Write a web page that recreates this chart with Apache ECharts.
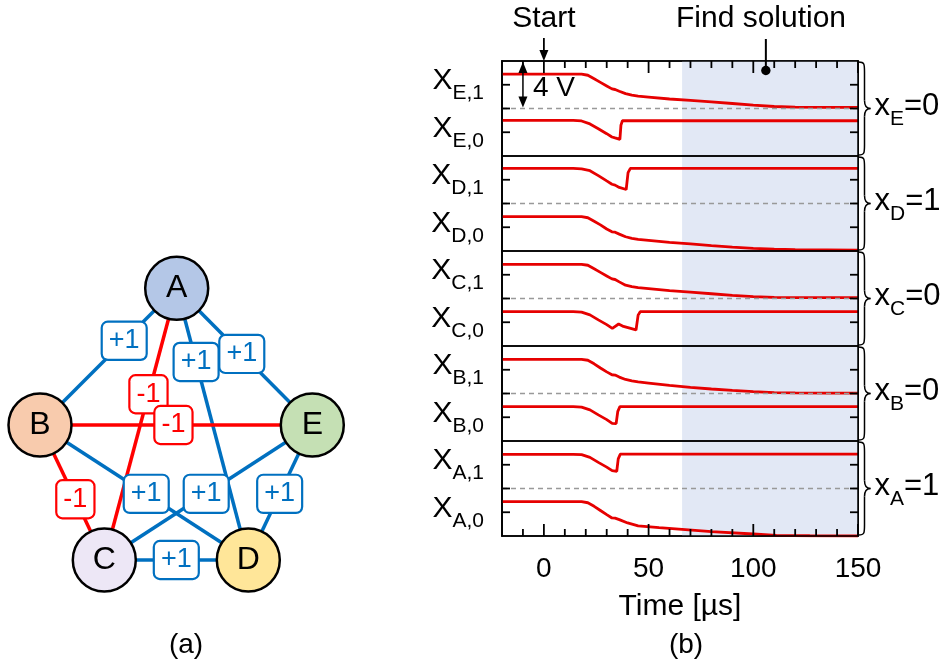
<!DOCTYPE html>
<html><head><meta charset="utf-8">
<script src="https://cdn.jsdelivr.net/npm/echarts@6/dist/echarts.min.js"></script>
<style>html,body{margin:0;padding:0;background:#fff}#c{width:947px;height:668px}</style>
</head><body><div id="c"></div>
<script>
// ---------- Panel (a): graph data ----------
const nodeNames = ['A','B','C','D','E'];
const nodeX = [176.7, 40, 104.3, 248.3, 312.3];
const nodeY = [288.3, 425, 560, 560, 425];
const nodeColors = ['#b4c7e7','#f8cbad','#ede7f6','#ffe699','#c5e0b4'];
const edgeSource = ['A','A','A','A','B','B','B','C','E','C'];
const edgeTarget = ['B','E','D','C','E','C','D','E','D','D'];
const edgeWeight = ['+1','+1','+1','-1','-1','-1','+1','+1','+1','+1'];
const edgeLabelT = [0.384,0.48,0.271,0.39,0.49,0.55,0.51,0.49,0.51,0.5];

// ---------- Panel (b): waveform data ([time µs, volts]) ----------
const timeMin = -20, timeMax = 150;
const timeTicks = [0,50,100,150];
const timeMinorTicks = [-10,10,20,30,40,60,70,80,90,110,120,130,140];
const voltTicks = [-2,0,2];
const solveStart = 66;
const spinNames = ['E','D','C','B','A'];
const spinValues = ['0','1','0','0','1'];
const bitUpper = ['0','1','0','0','1'];
const bitLower = ['1','0','1','1','0'];

const xE1 = [[-20,2.9],[18,2.9],[21,2.8],[24,2.5],[27,2.2],[30,1.9],[32.5,1.65],[33.2,1.8],[34,1.6],[36,1.45],[39,1.25],[42,1.12],[45,1.04],[50,0.96],[60,0.8],[70,0.68],[80,0.56],[90,0.42],[100,0.28],[110,0.17],[120,0.12],[135,0.1],[150,0.1]];
const xE0 = [[-20,3.0],[14,3.0],[18,2.95],[22,2.7],[26,2.3],[30,1.88],[32.5,1.6],[33.2,1.68],[34,1.52],[36.3,1.4],[36.8,2.6],[37.5,2.97],[150,2.97]];
const xD1 = [[-20,2.96],[14,2.96],[18,2.92],[22,2.76],[26,2.35],[30,1.9],[32.5,1.62],[33.2,1.72],[34,1.55],[36,1.35],[39.3,1.18],[40.2,2.6],[41.3,2.96],[150,2.96]];
const xD0 = [[-20,2.89],[18,2.89],[21,2.8],[24,2.5],[27,2.2],[30,1.85],[32.5,1.62],[33.2,1.78],[34,1.58],[36,1.42],[39,1.2],[42,1.07],[45,0.98],[50,0.9],[60,0.73],[70,0.6],[80,0.46],[90,0.33],[100,0.22],[110,0.16],[120,0.12],[135,0.1],[150,0.08]];
const xC1 = [[-20,2.88],[18,2.88],[21,2.8],[24,2.5],[27,2.2],[30,1.9],[32.5,1.65],[33.2,1.8],[34,1.6],[36,1.4],[39,1.12],[42,1.0],[45,0.92],[50,0.84],[60,0.66],[70,0.53],[80,0.4],[90,0.26],[100,0.15],[110,0.1],[120,0.08],[135,0.07],[150,0.07]];
const xC0 = [[-20,2.89],[14,2.89],[18,2.85],[22,2.62],[26,2.2],[30,1.8],[32.7,1.49],[33.5,1.6],[35.7,1.85],[38,1.65],[41,1.5],[44,1.35],[45,2.6],[46,2.89],[150,2.89]];
const xB1 = [[-20,2.88],[18,2.88],[21,2.8],[24,2.5],[27,2.15],[30,1.82],[32.5,1.58],[33.2,1.72],[34,1.55],[36,1.38],[39,1.18],[42,1.06],[45,0.98],[50,0.88],[60,0.68],[70,0.52],[80,0.38],[90,0.26],[100,0.15],[110,0.08],[120,0.05],[135,0.03],[150,0.03]];
const xB0 = [[-20,2.89],[14,2.89],[18,2.85],[22,2.62],[26,2.2],[30,1.8],[32.6,1.48],[34.5,1.46],[35.3,2.5],[36.3,2.89],[150,2.89]];
const xA1 = [[-20,2.88],[14,2.88],[18,2.85],[22,2.62],[26,2.2],[30,1.8],[32.6,1.5],[34.8,1.45],[35.5,2.5],[36.5,2.9],[150,2.9]];
const xA0 = [[-20,2.89],[18,2.89],[21,2.8],[24,2.5],[27,2.15],[30,1.8],[32.5,1.52],[33.2,1.68],[34,1.5],[36,1.38],[40,1.1],[45,0.86],[55,0.7],[66,0.56],[80,0.36],[100,0.17],[111,0.06],[127,0.02],[150,0]];

const tracesUpper = [xE1, xD1, xC1, xB1, xA1];
const tracesLower = [xE0, xD0, xC0, xB0, xA0];

// ---------- styling ----------
const FONT = 'Liberation Sans, Arial, sans-serif';
const RED = '#e60000', BLUE = '#0070c0', EDGE_RED = '#ff0000';
const panelTop = 61, panelH = 95, plotLeft = 502, plotW = 356;

const grids = [], xAxes = [], yAxes = [], series = [];
for (let i = 0; i < 5; i++) {
  grids.push({left: plotLeft, top: panelTop + i * panelH, width: plotW, height: panelH,
    show: true, borderColor: '#000', borderWidth: 1.5, z: 10});
}
grids.push({left: 0, top: 0, width: 360, height: 668, show: false});

const blackLine = {show: true, onZero: false, lineStyle: {color: '#000', width: 1.5}};
const xBase = {type: 'value', min: timeMin, max: timeMax, splitLine: {show: false},
  axisLine: blackLine, axisLabel: {show: false}, axisTick: {show: false}};
xAxes.push(Object.assign({}, xBase, {gridIndex: 0, position: 'top'}));
for (let i = 1; i <= 3; i++) xAxes.push(Object.assign({}, xBase, {gridIndex: i, show: false}));
xAxes.push(Object.assign({}, xBase, {gridIndex: 4, position: 'bottom',
  axisLabel: {show: true, customValues: timeTicks, fontSize: 28, color: '#000', fontFamily: FONT, margin: 19},
  name: 'Time [µs]', nameLocation: 'middle', nameGap: 56,
  nameTextStyle: {fontSize: 30, color: '#000', fontFamily: FONT}}));
xAxes.push({type: 'value', gridIndex: 5, min: 0, max: 360, show: false});
const seriesX = [0, 1, 2, 3, 4];

const yRich = {
  x: {fontSize: 30, color: '#000', fontFamily: FONT, verticalAlign: 'bottom', padding: [0, 0, 8, 0]},
  s: {fontSize: 21, color: '#000', fontFamily: FONT, verticalAlign: 'bottom'},
  v: {fontSize: 27, color: '#000', fontFamily: FONT, padding: [10, 0, 0, 0]}
};
for (let i = 0; i < 5; i++) {
  const common = {type: 'value', gridIndex: i, splitLine: {show: false}, axisLine: blackLine, axisTick: {show: false}};
  yAxes.push(Object.assign({}, common, {position: 'left', min: -4, max: 4,
    axisLabel: {show: true, customValues: [2], margin: 18, rich: yRich,
      formatter: () => '{x|X}{s|' + spinNames[i] + ',1}'}}));
  yAxes.push(Object.assign({}, common, {position: 'left', min: 0, max: 8,
    axisLabel: {show: true, customValues: [2], margin: 18, rich: yRich,
      formatter: () => '{x|X}{s|' + spinNames[i] + ',0}'}}));
  yAxes.push(Object.assign({}, common, {position: 'right', min: -4, max: 4,
    axisLabel: {show: true, inside: true, customValues: [2], margin: 15, rich: yRich,
      formatter: () => '{v|' + bitUpper[i] + '}'}}));
  yAxes.push(Object.assign({}, common, {position: 'right', min: 0, max: 8,
    axisLabel: {show: true, inside: true, customValues: [2], margin: 15, rich: yRich,
      formatter: () => '{v|' + bitLower[i] + '}'}}));
}
yAxes.push({type: 'value', gridIndex: 5, min: 0, max: 668, inverse: true, show: false});

for (let i = 0; i < 5; i++) {
  series.push({type: 'line', xAxisIndex: seriesX[i], yAxisIndex: 4 * i, data: [], z: 1, silent: true,
    markArea: {silent: true, itemStyle: {color: '#e2e8f5'}, data: [[{xAxis: solveStart}, {xAxis: timeMax}]]}});
  series.push({type: 'line', xAxisIndex: seriesX[i], yAxisIndex: 4 * i + 1, data: [], z: 2, silent: true,
    markLine: {silent: true, symbol: ['none', 'none'], label: {show: false},
      lineStyle: {color: '#999', type: [5, 4], width: 1.3}, data: [{yAxis: 4}]}});
  series.push({type: 'line', xAxisIndex: seriesX[i], yAxisIndex: 4 * i, data: tracesUpper[i],
    showSymbol: false, lineStyle: {color: RED, width: 2.8}, z: 3});
  series.push({type: 'line', xAxisIndex: seriesX[i], yAxisIndex: 4 * i + 1, data: tracesLower[i],
    showSymbol: false, lineStyle: {color: RED, width: 2.8}, z: 3});
}

// graph panel (a)
series.push({
  type: 'graph', coordinateSystem: 'cartesian2d', xAxisIndex: 5, yAxisIndex: 20, z: 4,
  symbolSize: 63, edgeSymbol: ['none', 'none'],
  data: nodeNames.map((n, k) => ({name: n, value: [nodeX[k], nodeY[k]],
    itemStyle: {color: nodeColors[k], borderColor: '#000', borderWidth: 2.5}})),
  label: {show: true, position: 'inside', fontSize: 32, color: '#000', fontFamily: FONT},
  links: edgeSource.map((s, k) => ({source: s, target: edgeTarget[k],
    lineStyle: {color: edgeWeight[k] === '-1' ? EDGE_RED : BLUE, width: 3.5, opacity: 1, curveness: 0}}))
});
series.push({
  type: 'scatter', xAxisIndex: 5, yAxisIndex: 20, z: 5, symbolSize: 0, silent: true,
  itemStyle: {opacity: 1},
  data: edgeSource.map((s, k) => {
    const a = nodeNames.indexOf(s), b = nodeNames.indexOf(edgeTarget[k]), t = edgeLabelT[k];
    const col = edgeWeight[k] === '-1' ? EDGE_RED : BLUE;
    return {value: [nodeX[a] + t * (nodeX[b] - nodeX[a]), nodeY[a] + t * (nodeY[b] - nodeY[a])],
      label: {show: true, position: 'inside', formatter: edgeWeight[k], color: col, borderColor: col,
        borderWidth: 2.2, borderRadius: 5, backgroundColor: '#fff', padding: [5, 6, 4, 6], fontSize: 27,
        fontFamily: FONT, opacity: 1}};
  })
});

const chart = echarts.init(document.getElementById('c'), null, {renderer: 'canvas'});
chart.setOption({animation: false, backgroundColor: '#fff', grid: grids, xAxis: xAxes, yAxis: yAxes, series: series});

// ---------- annotations & tick marks (positions from the axes) ----------
const px = (xi, yi, v) => chart.convertToPixel({xAxisIndex: xi, yAxisIndex: yi}, v);
const g = [];
const txt = (x, y, text, size, align) => ({type: 'text', x: x, y: y, z: 20,
  style: {text: text, fontSize: size, fontFamily: FONT, fill: '#000', align: align || 'center', verticalAlign: 'middle'}});
const seg = (x1, y1, x2, y2, w) => ({type: 'line', z: 20, shape: {x1: x1, y1: y1, x2: x2, y2: y2}, style: {stroke: '#000', lineWidth: w || 1.5}});
const bez = (x1, y1, c1x, c1y, c2x, c2y, x2, y2) => ({type: 'bezierCurve', z: 20,
  shape: {x1: x1, y1: y1, cpx1: c1x, cpy1: c1y, cpx2: c2x, cpy2: c2y, x2: x2, y2: y2},
  style: {stroke: '#000', fill: null, lineWidth: 1.5}});
// filled thin bar (same element type as the visible arrow heads)
const bar = (x1, y1, x2, y2) => {
  const h = 0.9;
  const pts = (x1 === x2)
    ? [[x1 - h, y1], [x1 + h, y1], [x2 + h, y2], [x2 - h, y2]]
    : [[x1, y1 - h], [x2, y2 - h], [x2, y2 + h], [x1, y1 + h]];
  return {type: 'polygon', z: 25, shape: {points: pts}, style: {fill: '#000'}};
};

const topY = px(0, 0, [0, 4])[1];
const botY = px(4, 16, [0, -4])[1];
timeMinorTicks.forEach(t => {
  const x = px(0, 0, [t, 0])[0];
  g.push(bar(x, topY, x, topY + 7));
  g.push(bar(x, botY, x, botY - 7));
});
timeTicks.forEach(t => {
  const x = px(0, 0, [t, 0])[0];
  g.push(bar(x, topY, x, topY + 12));
  g.push(bar(x, botY, x, botY - 12));
});
const xL = px(0, 0, [timeMin, 0])[0], xR = px(0, 0, [timeMax, 0])[0];
for (let i = 0; i < 5; i++) {
  voltTicks.forEach(v => {
    const y = px(seriesX[i], 4 * i, [0, v])[1];
    g.push(bar(xL, y, xL + 8, y));
    g.push(bar(xR - 8, y, xR, y));
  });
}

const pStart = px(0, 0, [0, 4]);
g.push(txt(pStart[0], 19, 'Start', 30));
g.push(seg(pStart[0], 38, pStart[0], pStart[1] - 8, 1.8));
g.push({type: 'polygon', z: 20, shape: {points: [[pStart[0] - 4.5, pStart[1] - 11], [pStart[0] + 4.5, pStart[1] - 11], [pStart[0], pStart[1]]]}, style: {fill: '#000'}});

const pFind = px(0, 0, [106, 4]);
g.push(txt(761, 19, 'Find solution', 30));
g.push(seg(pFind[0], 39, pFind[0], 68, 2));
g.push({type: 'circle', z: 20, shape: {cx: pFind[0], cy: 70.5, r: 4.7}, style: {fill: '#000'}});

const pA = px(0, 0, [-10, 4]), pB = px(0, 0, [-10, 0]);
g.push(seg(pA[0], pA[1] + 8, pA[0], pB[1] - 8, 1.5));
g.push({type: 'polygon', z: 20, shape: {points: [[pA[0] - 4.5, pA[1] + 12], [pA[0] + 4.5, pA[1] + 12], [pA[0], pA[1] + 1]]}, style: {fill: '#000'}});
g.push({type: 'polygon', z: 20, shape: {points: [[pA[0] - 4.5, pB[1] - 12], [pA[0] + 4.5, pB[1] - 12], [pA[0], pB[1] - 1]]}, style: {fill: '#000'}});
g.push(txt(pA[0] + 10, (pA[1] + pB[1]) / 2 + 4, '4 V', 28, 'left'));

for (let i = 0; i < 5; i++) {
  const top = px(seriesX[i], 4 * i + 1, [timeMax, 8]);
  const mid = px(seriesX[i], 4 * i + 1, [timeMax, 4]);
  const bot = px(seriesX[i], 4 * i + 1, [timeMax, 0]);
  const x0 = top[0] + 0.5, T = top[1] + 1, M = mid[1], B = bot[1] - 1;
  const xv = x0 + 6, tip = x0 + 12;
  g.push(bez(x0, T, xv, T, xv, T + 2, xv, T + 10));
  g.push(seg(xv, T + 10, xv, M - 8));
  g.push(bez(xv, M - 8, xv, M - 2, xv + 2, M, tip, M));
  g.push(bez(tip, M, xv + 2, M, xv, M + 2, xv, M + 8));
  g.push(seg(xv, M + 8, xv, B - 10));
  g.push(bez(xv, B - 10, xv, B - 2, xv, B, x0, B));
  g.push({type: 'text', z: 20, x: x0 + 16, y: M + 2,
    style: {text: '{x|x}{s|' + spinNames[i] + '}{x|=' + spinValues[i] + '}', fontFamily: FONT, fill: '#000',
      align: 'left', verticalAlign: 'middle',
      rich: {x: {fontSize: 31, fontFamily: FONT, fill: '#000', verticalAlign: 'bottom', padding: [0, 0, 8, 0]},
             s: {fontSize: 21, fontFamily: FONT, fill: '#000', verticalAlign: 'bottom'}}}});
}
g.push(txt(186, 645, '(a)', 28));
g.push(txt(686, 645, '(b)', 28));
chart.setOption({graphic: g});
</script></body></html>
